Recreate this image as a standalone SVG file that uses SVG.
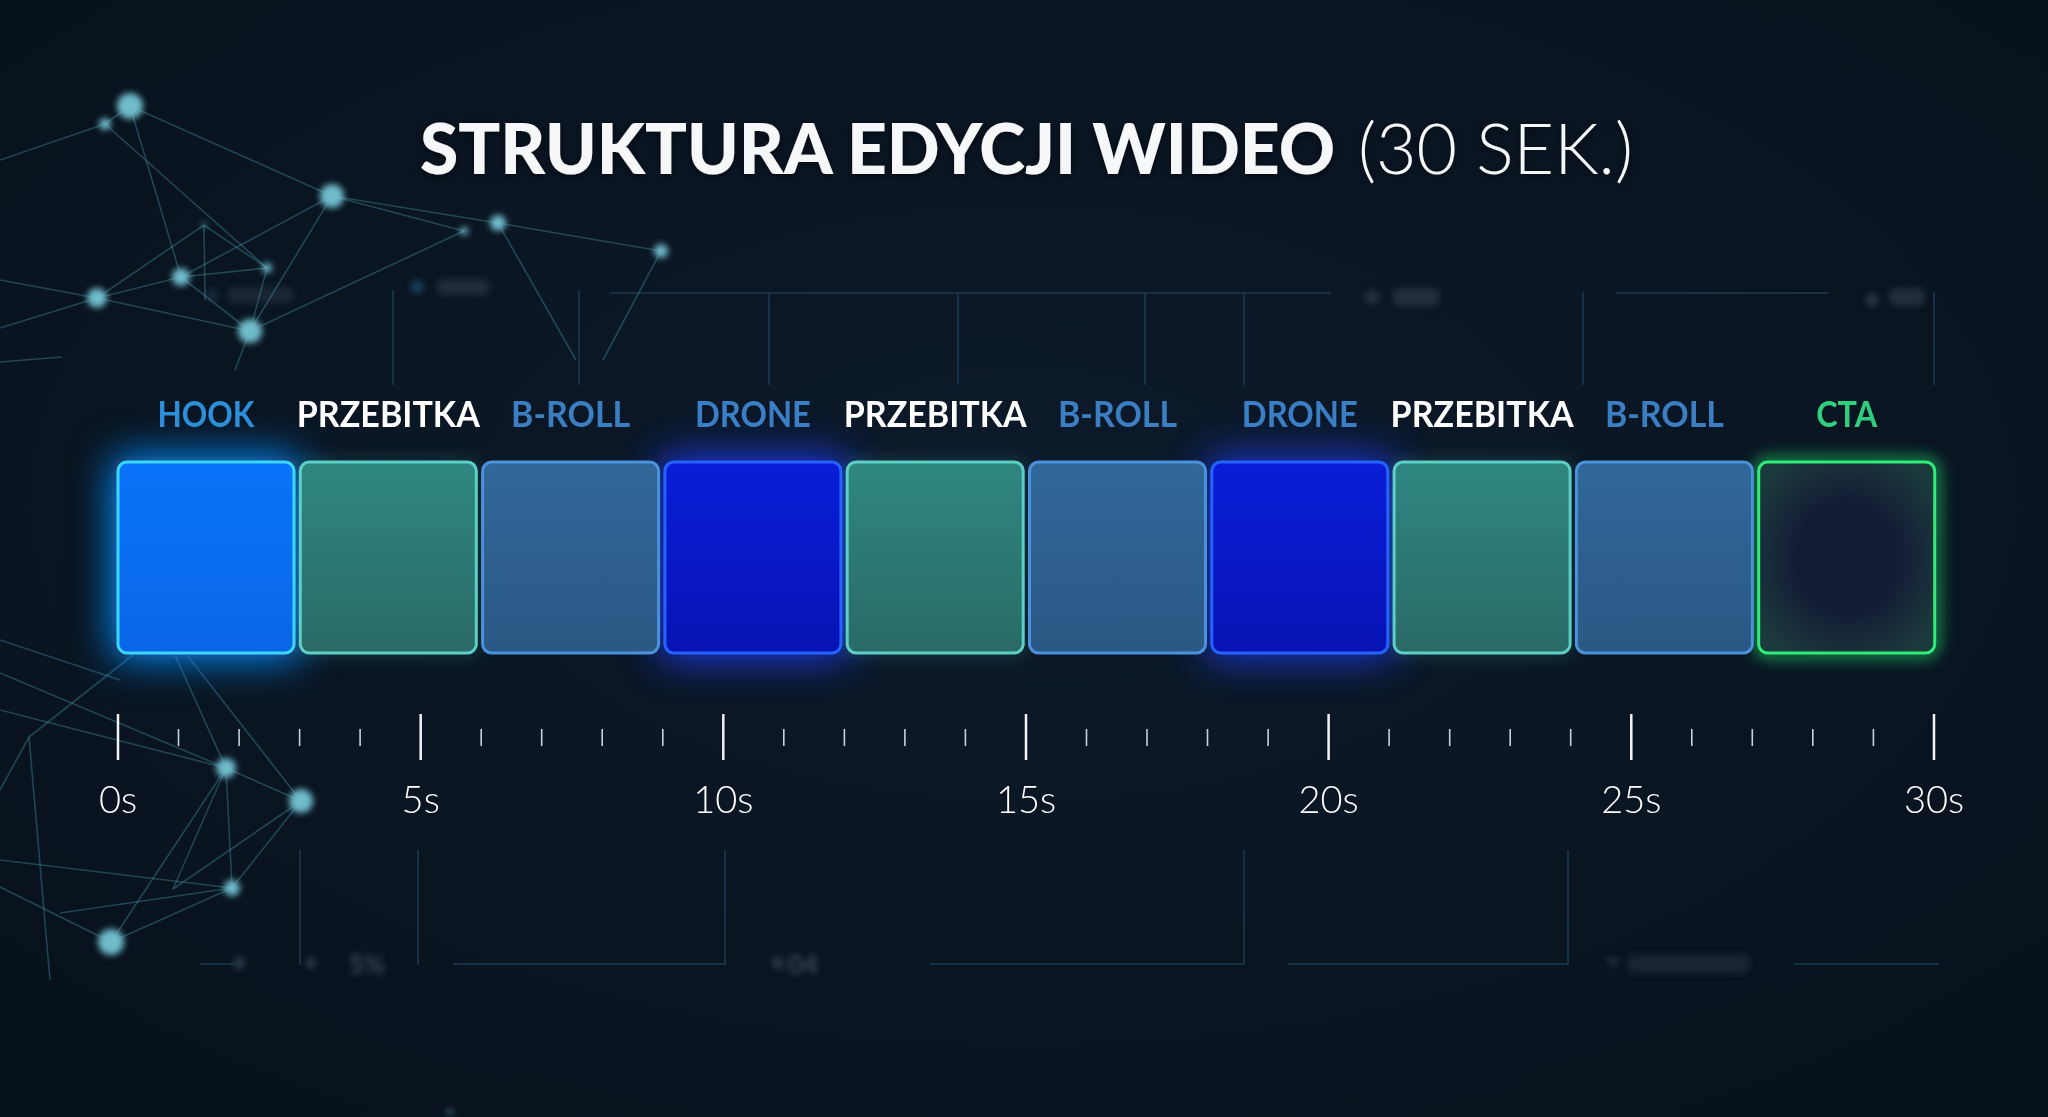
<svg xmlns="http://www.w3.org/2000/svg" width="2048" height="1117" viewBox="0 0 2048 1117">
<defs>
<radialGradient id="bg" cx="50%" cy="45%" r="75%">
<stop offset="0" stop-color="#0d1a2a"/>
<stop offset="1" stop-color="#07111b"/>
</radialGradient>
<linearGradient id="gHook" x1="0" y1="0" x2="0" y2="1"><stop offset="0" stop-color="#0a74fa"/><stop offset="1" stop-color="#0966e6"/></linearGradient>
<linearGradient id="gPrz" x1="0" y1="0" x2="0" y2="1"><stop offset="0" stop-color="#2f8782"/><stop offset="1" stop-color="#2a6a67"/></linearGradient>
<linearGradient id="gBr" x1="0" y1="0" x2="0" y2="1"><stop offset="0" stop-color="#31679a"/><stop offset="1" stop-color="#2b5884"/></linearGradient>
<linearGradient id="gDr" x1="0" y1="0" x2="0" y2="1"><stop offset="0" stop-color="#0a1ed8"/><stop offset="1" stop-color="#0713b4"/></linearGradient>
<radialGradient id="gCta" cx="50%" cy="50%" r="60%"><stop offset="0.5" stop-color="#141d36"/><stop offset="1" stop-color="#1b3a3c"/></radialGradient>
<filter id="glowHook" x="-50%" y="-50%" width="200%" height="200%"><feGaussianBlur stdDeviation="20"/></filter>
<filter id="glowSoft" x="-30%" y="-30%" width="160%" height="160%"><feGaussianBlur stdDeviation="8"/></filter>
<filter id="blurNode" x="-100%" y="-100%" width="300%" height="300%"><feGaussianBlur stdDeviation="3"/></filter>
<filter id="blurTxt" x="-30%" y="-50%" width="160%" height="200%"><feGaussianBlur stdDeviation="3"/></filter>
<filter id="tshadow" x="-5%" y="-30%" width="110%" height="160%"><feGaussianBlur in="SourceAlpha" stdDeviation="4"/><feOffset dy="2"/><feComponentTransfer><feFuncA type="linear" slope="0.6"/></feComponentTransfer><feMerge><feMergeNode/><feMergeNode in="SourceGraphic"/></feMerge></filter>
</defs>
<style>
.net line{stroke:#4a9db0;stroke-width:1.6;opacity:0.36}
.node{fill:#6fbccb}
.grid line{stroke:#1e3a52;stroke-width:1.5}
.lbl{font-family:"Lato","Open Sans","Liberation Sans",sans-serif;font-weight:700;font-size:36px;text-anchor:middle}
.tick{font-family:"Lato","Open Sans","Liberation Sans",sans-serif;font-weight:300;font-size:38px;fill:#ffffff;text-anchor:middle}
.blk{stroke-width:3}
.dim{font-family:"Lato","Liberation Sans",sans-serif;font-weight:700;font-size:26px;fill:#4e5c6c}
</style>
<rect width="2048" height="1117" fill="url(#bg)"/>

<!-- decorative grid -->
<g class="grid" id="grid">
<line x1="393" y1="290" x2="393" y2="385"/>
<line x1="579" y1="290" x2="579" y2="385"/>
<line x1="769" y1="292" x2="769" y2="385"/>
<line x1="958" y1="292" x2="958" y2="385"/>
<line x1="1145" y1="292" x2="1145" y2="385"/>
<line x1="1244" y1="292" x2="1244" y2="385"/>
<line x1="1583" y1="292" x2="1583" y2="385"/>
<line x1="1934" y1="292" x2="1934" y2="385"/>
<line x1="610" y1="293" x2="1331" y2="293" stroke-width="3"/>
<line x1="1616" y1="293" x2="1828" y2="293" stroke-width="3"/>
<line x1="300" y1="850" x2="300" y2="965"/>
<line x1="418" y1="850" x2="418" y2="965"/>
<line x1="725" y1="850" x2="725" y2="965"/>
<line x1="1244" y1="850" x2="1244" y2="965"/>
<line x1="1568" y1="850" x2="1568" y2="965"/>
<line x1="200" y1="964" x2="234" y2="964"/>
<line x1="453" y1="964" x2="725" y2="964"/>
<line x1="930" y1="964" x2="1244" y2="964"/>
<line x1="1288" y1="964" x2="1568" y2="964"/>
<line x1="1794" y1="964" x2="1939" y2="964"/>
</g>
<g id="blurred-bits" filter="url(#blurTxt)" opacity="0.7">
<circle cx="417" cy="287" r="7" fill="#1d4d6a"/>
<rect x="437" y="279" width="52" height="16" rx="6" fill="#2a3440"/>
<circle cx="212" cy="295" r="6" fill="#24364a"/>
<rect x="228" y="287" width="66" height="16" rx="6" fill="#242f3c"/>
<circle cx="1372" cy="297" r="7" fill="#343e4c"/>
<rect x="1393" y="288" width="46" height="18" rx="6" fill="#2e3846"/>
<circle cx="1872" cy="300" r="7" fill="#343e4c"/>
<rect x="1889" y="288" width="36" height="18" rx="6" fill="#2e3846"/>
<circle cx="239" cy="963" r="6" fill="#3a4a5c"/>
<circle cx="311" cy="963" r="5" fill="#3a4a5c"/>
<text x="349" y="974" class="dim">5%</text>
<circle cx="778" cy="963" r="6" fill="#3a4452"/>
<text x="788" y="974" class="dim">04</text>
<path d="M1606 958 h14 l-7 10 z" fill="#303a48"/>
<rect x="1628" y="955" width="122" height="18" rx="6" fill="#222b37"/>
</g>

<!-- network decoration -->
<g class="net" id="network">
<line x1="130" y1="106" x2="105" y2="124"/>
<line x1="130" y1="106" x2="332" y2="196"/>
<line x1="130" y1="106" x2="181" y2="277"/>
<line x1="105" y1="124" x2="0" y2="160"/>
<line x1="105" y1="124" x2="267" y2="268"/>
<line x1="332" y1="196" x2="181" y2="277"/>
<line x1="332" y1="196" x2="250" y2="331"/>
<line x1="332" y1="196" x2="498" y2="223"/>
<line x1="332" y1="196" x2="464" y2="231"/>
<line x1="498" y1="223" x2="661" y2="251"/>
<line x1="498" y1="223" x2="576" y2="360"/>
<line x1="661" y1="251" x2="603" y2="360"/>
<line x1="464" y1="231" x2="250" y2="331"/>
<line x1="97" y1="298" x2="181" y2="277"/>
<line x1="97" y1="298" x2="250" y2="331"/>
<line x1="97" y1="298" x2="204" y2="225"/>
<line x1="97" y1="298" x2="0" y2="328"/>
<line x1="0" y1="280" x2="97" y2="298"/>
<line x1="181" y1="277" x2="250" y2="331"/>
<line x1="181" y1="277" x2="267" y2="268"/>
<line x1="267" y1="268" x2="250" y2="331"/>
<line x1="204" y1="225" x2="267" y2="268"/>
<line x1="204" y1="225" x2="205" y2="300"/>
<line x1="250" y1="331" x2="235" y2="370"/>
<line x1="0" y1="362" x2="62" y2="357"/>
<line x1="226" y1="768" x2="301" y2="801"/>
<line x1="226" y1="768" x2="232" y2="888"/>
<line x1="226" y1="768" x2="111" y2="942"/>
<line x1="226" y1="768" x2="173" y2="889"/>
<line x1="226" y1="768" x2="175" y2="655"/>
<line x1="301" y1="801" x2="187" y2="655"/>
<line x1="301" y1="801" x2="232" y2="888"/>
<line x1="301" y1="801" x2="173" y2="889"/>
<line x1="232" y1="888" x2="111" y2="942"/>
<line x1="232" y1="888" x2="60" y2="913"/>
<line x1="232" y1="888" x2="0" y2="860"/>
<line x1="111" y1="942" x2="0" y2="887"/>
<line x1="226" y1="768" x2="0" y2="710"/>
<line x1="226" y1="768" x2="0" y2="673"/>
<line x1="29" y1="737" x2="133" y2="655"/>
<line x1="29" y1="737" x2="0" y2="790"/>
<line x1="29" y1="737" x2="50" y2="980"/>
<line x1="0" y1="640" x2="120" y2="680"/>
</g>
<g id="network-nodes" filter="url(#blurNode)">
<circle class="node" cx="130" cy="106" r="13"/>
<circle class="node" cx="105" cy="124" r="6"/>
<circle class="node" cx="332" cy="196" r="12"/>
<circle class="node" cx="498" cy="223" r="8"/>
<circle class="node" cx="464" cy="231" r="4"/>
<circle class="node" cx="661" cy="251" r="7"/>
<circle class="node" cx="181" cy="277" r="9"/>
<circle class="node" cx="267" cy="268" r="5"/>
<circle class="node" cx="204" cy="225" r="3" opacity="0.5"/>
<circle class="node" cx="97" cy="298" r="10"/>
<circle class="node" cx="250" cy="331" r="12"/>
<circle class="node" cx="226" cy="768" r="10"/>
<circle class="node" cx="301" cy="801" r="12"/>
<circle class="node" cx="232" cy="888" r="8"/>
<circle class="node" cx="111" cy="942" r="13"/>
<circle class="node" cx="450" cy="1112" r="3" opacity="0.5"/>
</g>

<!-- title -->
<g id="title" filter="url(#tshadow)">
<text x="420" y="174" font-family="Lato, 'Open Sans', 'Liberation Sans', sans-serif" font-weight="900" font-size="70" fill="#f5f7f9" textLength="915" lengthAdjust="spacingAndGlyphs">STRUKTURA EDYCJI WIDEO</text>
<text x="1358" y="174" font-family="Lato, 'Open Sans', 'Liberation Sans', sans-serif" font-weight="300" font-size="70" fill="#f5f7f9" textLength="275" lengthAdjust="spacingAndGlyphs">(30 SEK.)</text>
</g>

<!-- glows -->
<g id="glows">
<rect x="112" y="456" width="188" height="203" rx="12" fill="#0a8cff" filter="url(#glowHook)"/>
<rect x="659" y="456" width="188" height="203" rx="12" fill="#1a3cff" filter="url(#glowHook)" opacity="0.9"/>
<rect x="1206" y="456" width="188" height="203" rx="12" fill="#1a3cff" filter="url(#glowHook)" opacity="0.8"/>
<rect x="1758.7" y="462" width="176" height="191" rx="10" fill="none" stroke="#22e070" stroke-width="8" filter="url(#glowSoft)" opacity="0.9"/>
<rect x="300.3" y="462" width="176" height="191" rx="10" fill="none" stroke="#48c8c0" stroke-width="6" filter="url(#glowSoft)" opacity="0.3"/>
<rect x="847.2" y="462" width="176" height="191" rx="10" fill="none" stroke="#48c8c0" stroke-width="6" filter="url(#glowSoft)" opacity="0.3"/>
<rect x="1394.1" y="462" width="176" height="191" rx="10" fill="none" stroke="#48c8c0" stroke-width="6" filter="url(#glowSoft)" opacity="0.3"/>
</g>

<!-- timeline blocks -->
<g id="node-hook"><rect class="blk" x="118" y="462" width="176" height="191" rx="9" fill="url(#gHook)" stroke="#3ad8ff"/><text class="lbl" x="206" y="427" fill="#2b8fda" textLength="97" lengthAdjust="spacingAndGlyphs">HOOK</text></g>
<g id="node-przebitka-1"><rect class="blk" x="300.3" y="462" width="176" height="191" rx="9" fill="url(#gPrz)" stroke="#5ccfc6"/><text class="lbl" x="388.3" y="427" fill="#ffffff" textLength="183" lengthAdjust="spacingAndGlyphs">PRZEBITKA</text></g>
<g id="node-broll-1"><rect class="blk" x="482.6" y="462" width="176" height="191" rx="9" fill="url(#gBr)" stroke="#4a92dc"/><text class="lbl" x="570.6" y="427" fill="#3b7fc2" textLength="119" lengthAdjust="spacingAndGlyphs">B-ROLL</text></g>
<g id="node-drone-1"><rect class="blk" x="664.9" y="462" width="176" height="191" rx="9" fill="url(#gDr)" stroke="#2563ff"/><text class="lbl" x="752.9" y="427" fill="#3a7fc6" textLength="116" lengthAdjust="spacingAndGlyphs">DRONE</text></g>
<g id="node-przebitka-2"><rect class="blk" x="847.2" y="462" width="176" height="191" rx="9" fill="url(#gPrz)" stroke="#5ccfc6"/><text class="lbl" x="935.2" y="427" fill="#ffffff" textLength="183" lengthAdjust="spacingAndGlyphs">PRZEBITKA</text></g>
<g id="node-broll-2"><rect class="blk" x="1029.5" y="462" width="176" height="191" rx="9" fill="url(#gBr)" stroke="#4a92dc"/><text class="lbl" x="1117.5" y="427" fill="#3b7fc2" textLength="119" lengthAdjust="spacingAndGlyphs">B-ROLL</text></g>
<g id="node-drone-2"><rect class="blk" x="1211.8" y="462" width="176" height="191" rx="9" fill="url(#gDr)" stroke="#2563ff"/><text class="lbl" x="1299.8" y="427" fill="#3a7fc6" textLength="116" lengthAdjust="spacingAndGlyphs">DRONE</text></g>
<g id="node-przebitka-3"><rect class="blk" x="1394.1" y="462" width="176" height="191" rx="9" fill="url(#gPrz)" stroke="#5ccfc6"/><text class="lbl" x="1482.1" y="427" fill="#ffffff" textLength="183" lengthAdjust="spacingAndGlyphs">PRZEBITKA</text></g>
<g id="node-broll-3"><rect class="blk" x="1576.4" y="462" width="176" height="191" rx="9" fill="url(#gBr)" stroke="#4a92dc"/><text class="lbl" x="1664.4" y="427" fill="#3b7fc2" textLength="119" lengthAdjust="spacingAndGlyphs">B-ROLL</text></g>
<g id="node-cta"><rect class="blk" x="1758.7" y="462" width="176" height="191" rx="9" fill="url(#gCta)" stroke="#30ec78"/><text class="lbl" x="1846.7" y="427" fill="#2fcf7f" textLength="61" lengthAdjust="spacingAndGlyphs">CTA</text></g>

<!-- time axis -->
<g id="axis">
<path d="M118 714V760M420.7 714V760M723.3 714V760M1026 714V760M1328.6 714V760M1631.3 714V760M1934 714V760" stroke="#f2f4f6" stroke-width="2.5" fill="none"/>
<path d="M178.5 729V746M239.1 729V746M299.6 729V746M360.1 729V746M481.2 729V746M541.7 729V746M602.2 729V746M662.8 729V746M783.8 729V746M844.4 729V746M904.9 729V746M965.4 729V746M1086.5 729V746M1147 729V746M1207.5 729V746M1268.1 729V746M1389.1 729V746M1449.7 729V746M1510.2 729V746M1570.7 729V746M1691.8 729V746M1752.3 729V746M1812.8 729V746M1873.4 729V746" stroke="#c8d0d8" stroke-width="1.6" fill="none"/>
<text class="tick" x="118" y="813">0s</text>
<text class="tick" x="420.7" y="813">5s</text>
<text class="tick" x="723.3" y="813">10s</text>
<text class="tick" x="1026" y="813">15s</text>
<text class="tick" x="1328.6" y="813">20s</text>
<text class="tick" x="1631.3" y="813">25s</text>
<text class="tick" x="1934" y="813">30s</text>
</g>
</svg>
